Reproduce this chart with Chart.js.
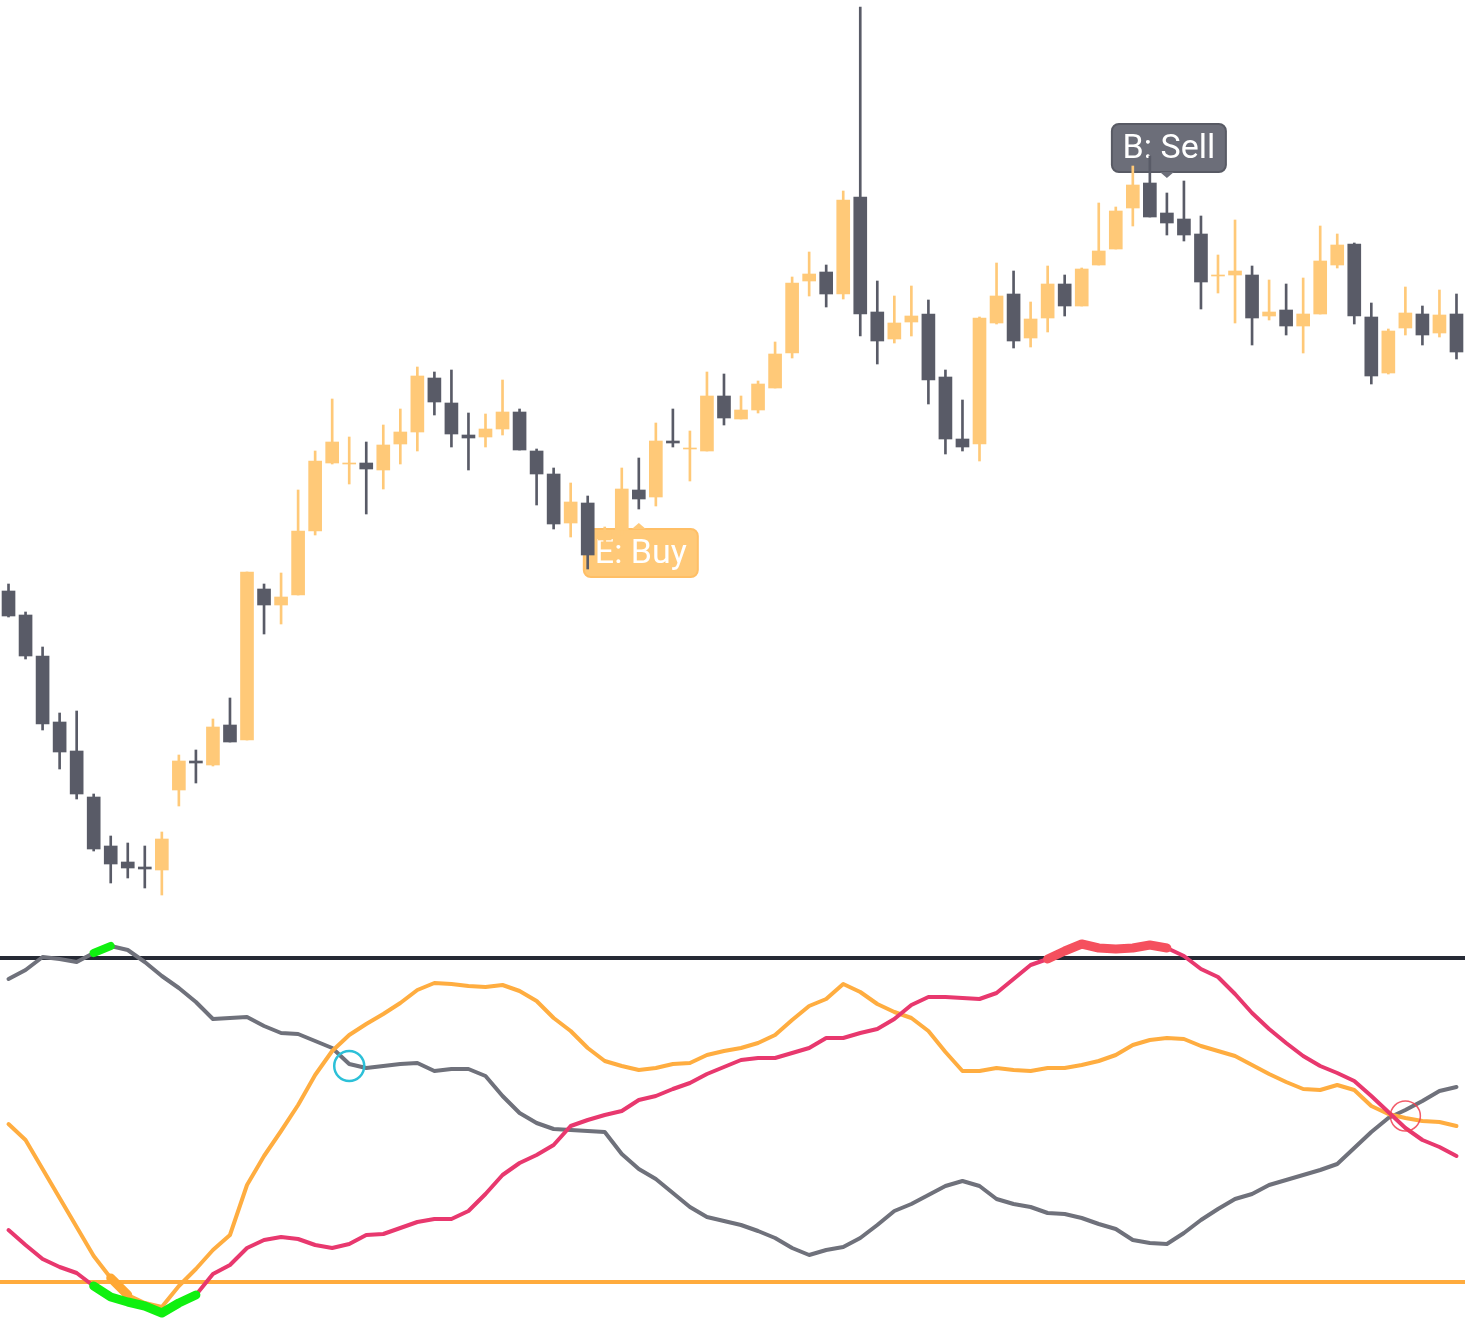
<!DOCTYPE html>
<html>
<head>
<meta charset="utf-8">
<title>Candles and oscillator</title>
<script src="https://cdn.jsdelivr.net/npm/chart.js@4.4.0/dist/chart.umd.min.js"></script>
<style>
  html, body { margin: 0; padding: 0; background: #fff; overflow: hidden; }
  canvas { display: block; }
</style>
</head>
<body>
<canvas id="priceChart" width="1465" height="920"></canvas>
<canvas id="oscChart" width="1465" height="419"></canvas>
<script>
// Price candles (arbitrary price units)
const openPrices  = [409,385,344,278,249,203,154,138,133,130, 210,239,235,275,260,411,395,405,469,537, 536,537,530,556,568,622,597,565,563,571,
                     588,549,526,477,497,460,470,510,503,559, 551,549,604,581,590,612,647,719,728,706, 803,688,661,678,686,623,561,556,677,706,
                     662,682,716,694,735,751,792,817,787,781, 766,724,725,725,684,690,674,686,735,756, 683,627,672,686,667,686];
const closePrices = [384,344,276,248,206,151,136,132,131,161, 239,237,273,258,428,395,403,469,539,558, 537,531,555,568,624,598,566,562,571,588,
                     550,526,476,498,445,468,511,501,559,557, 552,604,582,590,616,646,717,726,706,800, 686,659,677,684,620,561,553,682,704,659,
                     681,716,694,731,749,789,815,783,777,765, 718,725,729,682,688,674,686,739,755,684, 624,669,687,665,685,648];
const highPrices  = [416,388,353,287,289,206,164,157,154,168, 245,250,281,302,428,416,427,510,549,601, 563,558,575,591,633,628,630,587,586,620,
                     591,551,532,517,504,473,532,542,577,591, 569,628,626,604,619,658,723,748,735,809, 993,719,704,714,700,630,600,683,737,729,
                     698,734,725,732,797,793,834,844,807,819, 784,745,780,734,720,716,722,774,766,757, 697,671,713,694,710,706];
const lowPrices   = [383,341,270,231,201,149,117,122,112,105, 194,217,234,258,260,366,376,405,465,536, 516,486,511,536,549,585,553,530,553,565,
                     550,495,471,463,431,452,465,491,494,553, 519,549,575,581,587,612,642,704,693,701, 664,636,657,664,596,546,549,539,676,652,
                     653,668,684,694,735,751,774,783,765,759, 691,707,677,655,680,665,647,686,732,676, 616,626,665,655,663,641];
const candleLabels = openPrices.map((_, i) => String(i + 1));

// Signal tags on the price panel
const signalText  = ['B: Sell', 'E: Buy'];
const signalIndex = [68, 37];
const signalPrice = [822, 477];
const signalSide  = ['above', 'below'];

// Oscillator lines (same candle slots)
const grayLine   = [421,430,443,441,438,447,454,450,438,424, 412,398,381,382,383,374,367,366,359,352, 336,332,334,336,337,329,331,331,324,304,
                    287,277,271,270,269,268,246,231,221,207, 193,183,179,175,169,162,152,145,150,153, 162,175,189,196,205,214,219,214,201,196,
                    193,187,186,182,176,171,160,157,156,167, 180,191,201,206,215,220,225,230,236,252, 268,282,290,299,309,313];
const orangeLine = [276,260,231,202,173,144,122,105,97,93, 114,131,150,165,215,244,269,295,325,349, 365,376,386,397,410,417,416,414,413,415,
                    409,399,382,369,352,339,334,330,332,336, 337,345,349,352,357,365,380,394,401,416, 408,396,388,382,369,348,329,329,332,330,
                    329,332,332,335,339,345,355,360,362,361, 354,349,344,335,326,318,311,310,315,310, 294,286,282,279,278,274];
const pinkLine   = [170,155,141,133,127,114,103,98,94,87, 97,105,126,135,152,160,163,161,155,152, 156,165,166,172,178,181,181,189,206,225,
                    237,245,255,274,280,285,289,300,304,311, 317,326,333,340,342,342,347,352,362,362, 367,371,381,395,403,403,402,401,407,421,
                    435,441,449,456,452,451,452,455,452,444, 431,423,406,387,371,357,344,334,327,319, 304,288,272,260,253,244];
const upperLevel = 442;
const lowerLevel = 118;

// highlighted stretches: [firstIndex, lastIndex]
const grayHot   = [5, 6];
const pinkLow   = [5, 11];
const orangeLow = [6, 7];
const pinkHigh  = [61, 68];
// crossing markers: [index, value]
const crossUp   = [20, 334];
const crossDown = [82, 284];

const UP = '#FFC978';
const DOWN = '#595B67';

function slice(values, range) {
    return values.map((v, i) => (i >= range[0] && i <= range[1]) ? v : null);
}
function marker(point) {
    return candleLabels.map((_, i) => i === point[0] ? point[1] : null);
}

const candleColors = openPrices.map((o, i) => closePrices[i] >= o ? UP : DOWN);

const signalPlugin = {
    id: 'signals',
    beforeDatasetsDraw(chart) {
        const { ctx, scales: { x, y } } = chart;
        signalText.forEach((text, k) => {
            const px = x.getPixelForValue(signalIndex[k]);
            const py = y.getPixelForValue(signalPrice[k]);
            const above = signalSide[k] === 'above';
            const w = 114, h = 48, gap = 6;
            const left = px - w / 2 + 2;
            const top = above ? py - gap - h : py + gap;
            const fill = above ? '#6C6E79' : '#FFC978';
            const edge = above ? '#585A64' : '#FFBF66';
            ctx.save();
            ctx.fillStyle = fill;
            ctx.strokeStyle = edge;
            ctx.lineWidth = 2;
            ctx.beginPath();
            ctx.roundRect(left, top, w, h, 7);
            ctx.fill();
            ctx.stroke();
            ctx.beginPath();
            const baseY = above ? top + h : top;
            ctx.moveTo(px - 7, baseY);
            ctx.lineTo(px, py);
            ctx.lineTo(px + 7, baseY);
            ctx.closePath();
            ctx.fill();
            ctx.fillStyle = '#ffffff';
            ctx.font = '34px Roboto, "Liberation Sans", sans-serif';
            ctx.textAlign = 'center';
            ctx.textBaseline = 'middle';
            ctx.fillText(text, left + w / 2, top + h / 2 + 1);
            ctx.restore();
        });
    }
};

new Chart(document.getElementById('priceChart'), {
    type: 'bar',
    data: {
        labels: candleLabels,
        datasets: [
            {
                label: 'body',
                data: openPrices.map((o, i) => [o, closePrices[i]]),
                backgroundColor: candleColors,
                barThickness: 13,
                grouped: false,
                order: 0
            },
            {
                label: 'wick',
                data: lowPrices.map((l, i) => [l, highPrices[i]]),
                backgroundColor: candleColors,
                barThickness: 2,
                grouped: false,
                order: 1
            }
        ]
    },
    options: {
        responsive: false,
        animation: false,
        events: [],
        layout: { autoPadding: false, padding: 0 },
        plugins: { legend: { display: false }, tooltip: { enabled: false } },
        scales: {
            x: { display: false },
            y: { display: false, min: 80, max: 1000 }
        }
    },
    plugins: [signalPlugin]
});

const levelPlugin = {
    id: 'levels',
    beforeDatasetsDraw(chart) {
        const { ctx, chartArea, scales: { y } } = chart;
        [[upperLevel, '#262A35'], [lowerLevel, '#FFAB3D']].forEach(([lvl, color]) => {
            const py = y.getPixelForValue(lvl);
            ctx.save();
            ctx.strokeStyle = color;
            ctx.lineWidth = 4;
            ctx.beginPath();
            ctx.moveTo(chartArea.left, py);
            ctx.lineTo(chartArea.right, py);
            ctx.stroke();
            ctx.restore();
        });
    }
};

const lineBase = { pointRadius: 0, tension: 0, borderWidth: 4, borderJoinStyle: 'round', borderCapStyle: 'round', spanGaps: false };

new Chart(document.getElementById('oscChart'), {
    type: 'line',
    data: {
        labels: candleLabels,
        datasets: [
            { ...lineBase, label: 'cross up', data: marker(crossUp), showLine: false, pointRadius: 15,
              pointBorderColor: '#2CC0D8', pointBackgroundColor: 'rgba(0,0,0,0)', pointBorderWidth: 2.5, order: 0 },
            { ...lineBase, label: 'cross down', data: marker(crossDown), showLine: false, pointRadius: 15,
              pointBorderColor: 'rgba(240,64,80,0.85)', pointBackgroundColor: 'rgba(0,0,0,0)', pointBorderWidth: 1.5, order: 0 },
            { ...lineBase, label: 'pink high', data: slice(pinkLine, pinkHigh), borderColor: '#F5505E', borderWidth: 9, order: 1 },
            { ...lineBase, label: 'pink low', data: slice(pinkLine, pinkLow), borderColor: '#10F010', borderWidth: 9, order: 1 },
            { ...lineBase, label: 'gray hot', data: slice(grayLine, grayHot), borderColor: '#10F010', borderWidth: 8, order: 1 },
            { ...lineBase, label: 'orange low', data: slice(orangeLine, orangeLow), borderColor: '#FFA834', borderWidth: 9, order: 2 },
            { ...lineBase, label: 'pink', data: pinkLine, borderColor: '#E8386E', order: 3 },
            { ...lineBase, label: 'orange', data: orangeLine, borderColor: '#FFAD40', order: 4 },
            { ...lineBase, label: 'gray', data: grayLine, borderColor: '#6F717B', order: 5 }
        ]
    },
    options: {
        responsive: false,
        animation: false,
        events: [],
        layout: { autoPadding: false, padding: 0 },
        plugins: { legend: { display: false }, tooltip: { enabled: false } },
        scales: {
            x: { display: false, offset: true },
            y: { display: false, min: 61, max: 480 }
        }
    },
    plugins: [levelPlugin]
});
</script>
</body>
</html>
